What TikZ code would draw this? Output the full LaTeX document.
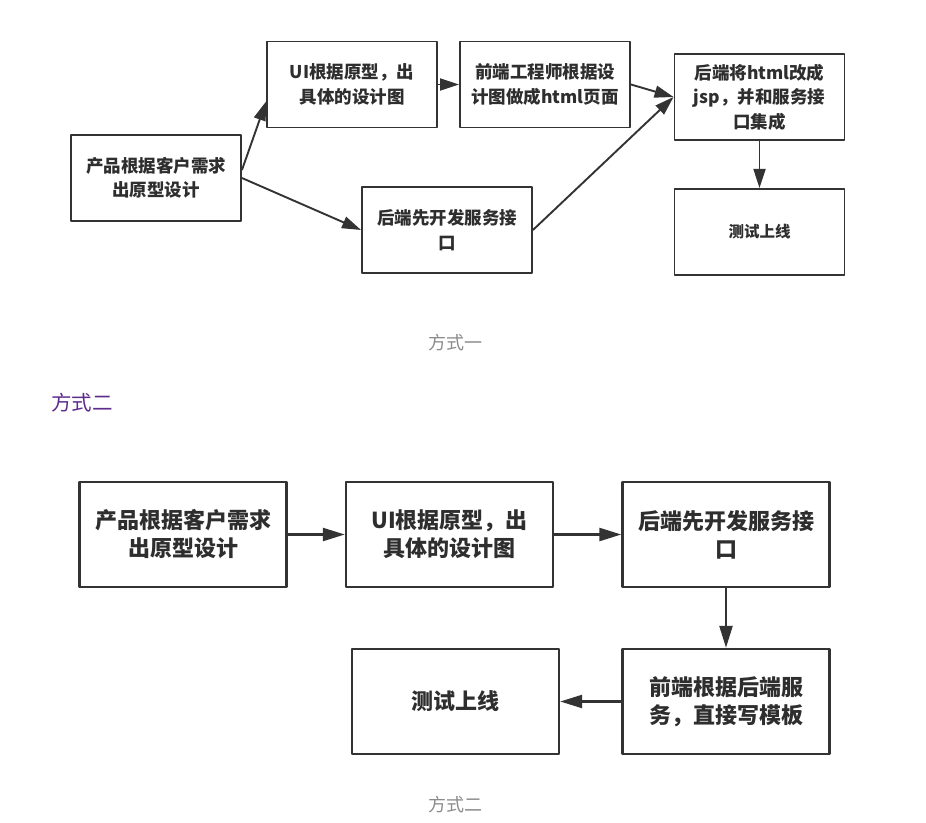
\documentclass[tikz,border=0pt]{standalone}
\usepackage{fontspec}
\newfontfamily\cjk{Noto Sans CJK SC}
\usetikzlibrary{arrows.meta,positioning}
\definecolor{linegray}{HTML}{333333}
\definecolor{textgray}{HTML}{2E2E2E}
\definecolor{capgray}{HTML}{8A8A8A}
\definecolor{cappurple}{HTML}{5E2C8C}
\begin{document}
\begin{tikzpicture}[x=1pt,y=-1pt,line join=round,
	box/.style={draw=linegray,line width=1.9pt,fill=white,align=center,text=textgray,inner sep=0pt,
		minimum width=170pt,minimum height=86pt,font=\cjk\bfseries\fontsize{17.5}{24.5}\selectfont},
	bigbox/.style={box,line width=2.4pt,minimum width=207pt,minimum height=105pt,
		font=\cjk\bfseries\fontsize{22}{28}\selectfont},
	flow/.style={-{Triangle[length=19pt,width=12pt]},draw=linegray,line width=1.9pt},
	bigflow/.style={-{Triangle[length=22pt,width=13pt]},draw=linegray,line width=2.4pt},
	caption/.style={text=capgray,font=\cjk\fontsize{18}{20}\selectfont}]
	\useasboundingbox (0,0) rectangle (926,822);
	% 方式一
	\node[box] (prod) at (156,178) {产品根据客户需求\\出原型设计};
	\node[box] (ui) at (352,84.5) {UI根据原型，出\\具体的设计图};
	\node[box] (api) at (447,230) {后端先开发服务接\\口};
	\node[box] (front) at (545,84.5) {前端工程师根据设\\计图做成html页面};
	\node[box] (jsp) at (759.5,97) {后端将html改成\\jsp，并和服务接\\口集成};
	\node[box,below=47pt of jsp,font=\cjk\bfseries\fontsize{15.5}{20}\selectfont] (test) {测试上线};
	\draw[flow] ([yshift=8pt]prod.east) -- ([yshift=-17pt]ui.west);
	\draw[flow] (prod.east) -- (api.west);
	\draw[flow] (ui) -- (front);
	\draw[flow] (front.east) -- (jsp.west);
	\draw[flow] (api.east) -- (jsp.west);
	\draw[flow] (jsp) -- (test);
	\node[caption] (capone) at (455,343) {方式一};
	% 方式二
	\node[text=cappurple,font=\cjk\fontsize{20.5}{22}\selectfont] (head) at (82,403) {方式二};
	\node[bigbox] (prodb) at (183,534.5) {产品根据客户需求\\出原型设计};
	\node[bigbox] (uib) at (449.5,534.5) {UI根据原型，出\\具体的设计图};
	\node[bigbox] (apib) at (726,534.5) {后端先开发服务接\\口};
	\node[bigbox] (tpl) at (726,701.5) {前端根据后端服\\务，直接写模板};
	\node[bigbox] (testb) at (455.5,701.5) {测试上线};
	\draw[bigflow] (prodb) -- (uib);
	\draw[bigflow] (uib) -- (apib);
	\draw[bigflow] (apib) -- (tpl);
	\draw[bigflow] (tpl) -- (testb);
	\node[caption] (captwo) at (455,805) {方式二};
\end{tikzpicture}
\end{document}
